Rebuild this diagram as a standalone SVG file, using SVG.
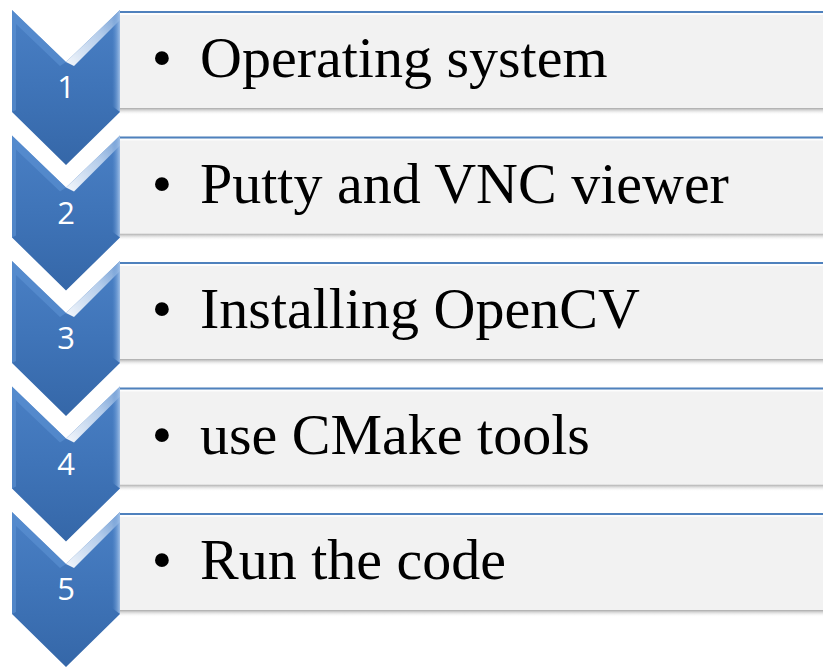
<svg xmlns="http://www.w3.org/2000/svg" width="823" height="669" viewBox="0 0 823 669">
  <defs>
    <linearGradient id="chevFill" x1="0" y1="0" x2="0" y2="1">
      <stop offset="0" stop-color="#4a80c5"/>
      <stop offset="0.5" stop-color="#3f74b8"/>
      <stop offset="1" stop-color="#3567a8"/>
    </linearGradient>
    <linearGradient id="bevel" x1="0" y1="1" x2="1" y2="0">
      <stop offset="0" stop-color="#ffffff" stop-opacity="0.95"/>
      <stop offset="0.6" stop-color="#cfe0f5" stop-opacity="0.8"/>
      <stop offset="1" stop-color="#8fb3e0" stop-opacity="0.6"/>
    </linearGradient>
    <linearGradient id="rightEdge" x1="0" y1="0" x2="1" y2="0">
      <stop offset="0" stop-color="#5f93d3" stop-opacity="0"/>
      <stop offset="1" stop-color="#a9c6ea" stop-opacity="0.9"/>
    </linearGradient>
    <linearGradient id="shadow" x1="0" y1="0" x2="0" y2="1">
      <stop offset="0" stop-color="#a8a8a8"/>
      <stop offset="1" stop-color="#ffffff" stop-opacity="0"/>
    </linearGradient>
    <g id="chevron">
      <polygon points="12,0 66,52 120,0 120,102 66,155 12,102" fill="url(#chevFill)"/>
      <polygon points="12,0 66,52 60,56 16,14 16,100 12,102" fill="#5d92d4" opacity="0.6"/>
      <polygon points="66,52 120,0 120,10 74,56" fill="url(#bevel)"/>
      <polygon points="112,8 120,0 120,102 112,96" fill="url(#rightEdge)"/>
    </g>
    <g id="panel">
      <rect x="120" y="98" width="710" height="7" fill="url(#shadow)"/>
      <rect x="120" y="1" width="710" height="97" fill="#f2f2f2"/>
      <rect x="120" y="3" width="710" height="2" fill="#ffffff" opacity="0.8"/>
      <line x1="120" y1="2" x2="830" y2="2" stroke="#4f81bd" stroke-width="2"/>
    </g>
  </defs>
  <style>
    .num { font-family: "Open Sans", "Liberation Sans", sans-serif; font-size: 31px; fill: #ffffff; text-anchor: middle; }
    .txt { font-family: "Liberation Serif", "Times New Roman", serif; font-size: 58px; fill: #000000; }
    .bul { font-family: "Liberation Serif", "Times New Roman", serif; font-size: 58px; fill: #000000; text-anchor: middle; }
  </style>
  <g id="connectors"/>
  <g id="node1" transform="translate(0,10)">
    <use href="#panel"/>
    <use href="#chevron"/>
    <text class="num" x="66" y="88">1</text>
    <text class="bul" x="162" y="67">•</text>
    <text class="txt" x="200" y="67">Operating system</text>
  </g>
  <g id="node2" transform="translate(0,135.5)">
    <use href="#panel"/>
    <use href="#chevron"/>
    <text class="num" x="66" y="88">2</text>
    <text class="bul" x="162" y="67">•</text>
    <text class="txt" x="200" y="67">Putty and VNC viewer</text>
  </g>
  <g id="node3" transform="translate(0,261)">
    <use href="#panel"/>
    <use href="#chevron"/>
    <text class="num" x="66" y="88">3</text>
    <text class="bul" x="162" y="67">•</text>
    <text class="txt" x="200" y="67">Installing OpenCV</text>
  </g>
  <g id="node4" transform="translate(0,386.5)">
    <use href="#panel"/>
    <use href="#chevron"/>
    <text class="num" x="66" y="88">4</text>
    <text class="bul" x="162" y="67">•</text>
    <text class="txt" x="200" y="67">use CMake tools</text>
  </g>
  <g id="node5" transform="translate(0,512)">
    <use href="#panel"/>
    <use href="#chevron"/>
    <text class="num" x="66" y="88">5</text>
    <text class="bul" x="162" y="67">•</text>
    <text class="txt" x="200" y="67">Run the code</text>
  </g>
</svg>
